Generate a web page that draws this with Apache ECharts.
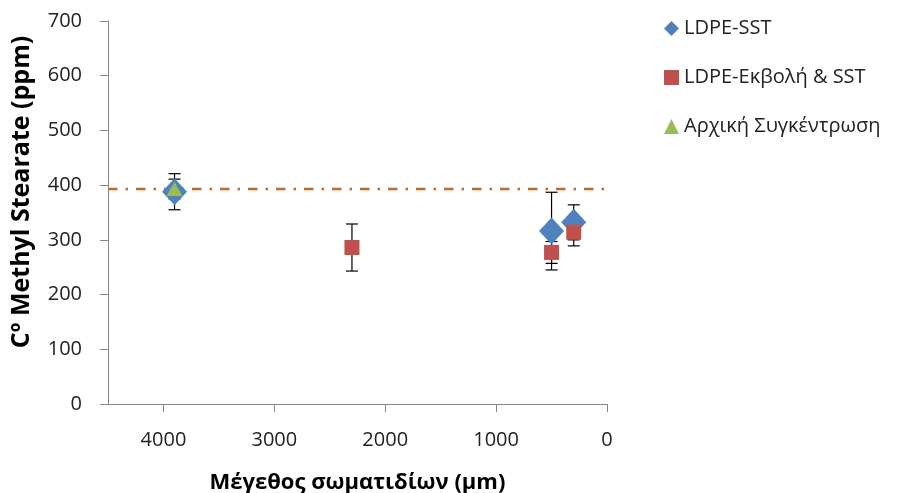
<!DOCTYPE html>
<html><head><meta charset="utf-8">
<script src="https://cdn.jsdelivr.net/npm/echarts@6/dist/echarts.min.js"></script>
<style>html,body{margin:0;padding:0;background:#fff}#c{width:914px;height:493px}</style>
</head><body><div id="c"></div>
<script>
// Data
const seriesNames = ['LDPE-SST', 'LDPE-Εκβολή & SST', 'Αρχική Συγκέντρωση'];
const sstX = [3900, 500, 300];
const sstY = [388, 316, 332];
const sstErr = [33, 71, 32];
const extX = [2300, 500, 300];
const extY = [286, 277, 314];
const extErr = [43, 20, 25];
const initX = [3900];
const initY = [393];
const initErr = [18];
const initLevel = 393;
const xTicks = [0, 1000, 2000, 3000, 4000];
const yTicks = [0, 100, 200, 300, 400, 500, 600, 700];
const xTitle = 'Μέγεθος σωματιδίων (μm)';
const yTitle = 'Cº Methyl Stearate (ppm)';

const FONT = '"Open Sans", "DejaVu Sans", sans-serif';
const pts = (xs, ys) => xs.map((x, i) => [x, ys[i]]);
const errs = (xs, ys, es) => xs.map((x, i) => [x, ys[i] - es[i], ys[i] + es[i]]);

function errRender(params, api) {
  const x = api.value(0), lo = api.value(1), hi = api.value(2);
  const p1 = api.coord([x, hi]), p2 = api.coord([x, lo]);
  const w = 6;
  const st = { stroke: '#000', lineWidth: 1.2 };
  return { type: 'group', children: [
    { type: 'line', shape: { x1: p1[0], y1: p1[1], x2: p2[0], y2: p2[1] }, style: st },
    { type: 'line', shape: { x1: p1[0] - w, y1: p1[1], x2: p1[0] + w, y2: p1[1] }, style: st },
    { type: 'line', shape: { x1: p2[0] - w, y1: p2[1], x2: p2[0] + w, y2: p2[1] }, style: st }
  ]};
}

const chart = echarts.init(document.getElementById('c'));
chart.setOption({
  animation: false,
  backgroundColor: '#fff',
  grid: { left: 108, right: 307, top: 21, bottom: 89, outerBoundsMode: 'none', containLabel: false },
  graphic: [{
    type: 'text', x: 22, y: 192, rotation: Math.PI / 2,
    style: { text: yTitle, font: 'bold 25px ' + FONT, fill: '#000', align: 'center', verticalAlign: 'middle' }
  }],
  legend: {
    data: seriesNames,
    orient: 'vertical',
    left: 659, top: 13,
    itemWidth: 15, itemHeight: 15, itemGap: 28,
    textStyle: { fontFamily: FONT, fontSize: 20, color: '#222', lineHeight: 21 }
  },
  xAxis: {
    type: 'value', inverse: true, min: 0, max: 4500, interval: 1000,
    name: xTitle, nameLocation: 'middle', nameGap: 68,
    nameTextStyle: { fontFamily: FONT, fontSize: 22, fontWeight: 'bold', color: '#000' },
    axisLine: { onZero: false, lineStyle: { color: '#868686', width: 1 } },
    axisTick: { show: true, length: 8, customValues: xTicks, lineStyle: { color: '#868686' } },
    axisLabel: { customValues: xTicks, margin: 26, fontFamily: FONT, fontSize: 20, color: '#222',
      formatter: v => String(v) },
    splitLine: { show: false }
  },
  yAxis: {
    type: 'value', min: 0, max: 700, interval: 100,
    axisLine: { show: true, onZero: false, lineStyle: { color: '#868686', width: 1 } },
    axisTick: { show: true, length: 8, customValues: yTicks, lineStyle: { color: '#868686' } },
    axisLabel: { customValues: yTicks, margin: 26, fontFamily: FONT, fontSize: 20, color: '#222',
      formatter: v => String(v) },
    splitLine: { show: false }
  },
  series: [
    { type: 'line', data: [[4500, initLevel], [0, initLevel]], symbol: 'none', silent: true, z: 1,
      lineStyle: { color: '#BF6A28', width: 2.5, type: [9.5, 8, 2.5, 8] } },
    { type: 'custom', renderItem: errRender, data: errs(sstX, sstY, sstErr), encode: { x: 0, y: [1, 2] }, z: 2 },
    { type: 'custom', renderItem: errRender, data: errs(extX, extY, extErr), encode: { x: 0, y: [1, 2] }, z: 2 },
    { type: 'custom', renderItem: errRender, data: errs(initX, initY, initErr), encode: { x: 0, y: [1, 2] }, z: 2 },
    { name: seriesNames[0], type: 'scatter', data: pts(sstX, sstY), symbol: 'diamond', symbolSize: [25, 27], z: 3,
      itemStyle: { color: '#4F81BD', opacity: 1 } },
    { name: seriesNames[1], type: 'scatter', data: pts(extX, extY), symbol: 'rect', symbolSize: 15, z: 4,
      itemStyle: { color: '#C0504D', opacity: 1 } },
    { name: seriesNames[2], type: 'scatter', data: pts(initX, initY), symbol: 'triangle', symbolSize: [16, 14], z: 5,
      itemStyle: { color: '#9BBB59', opacity: 1 } }
  ]
});
</script></body></html>
